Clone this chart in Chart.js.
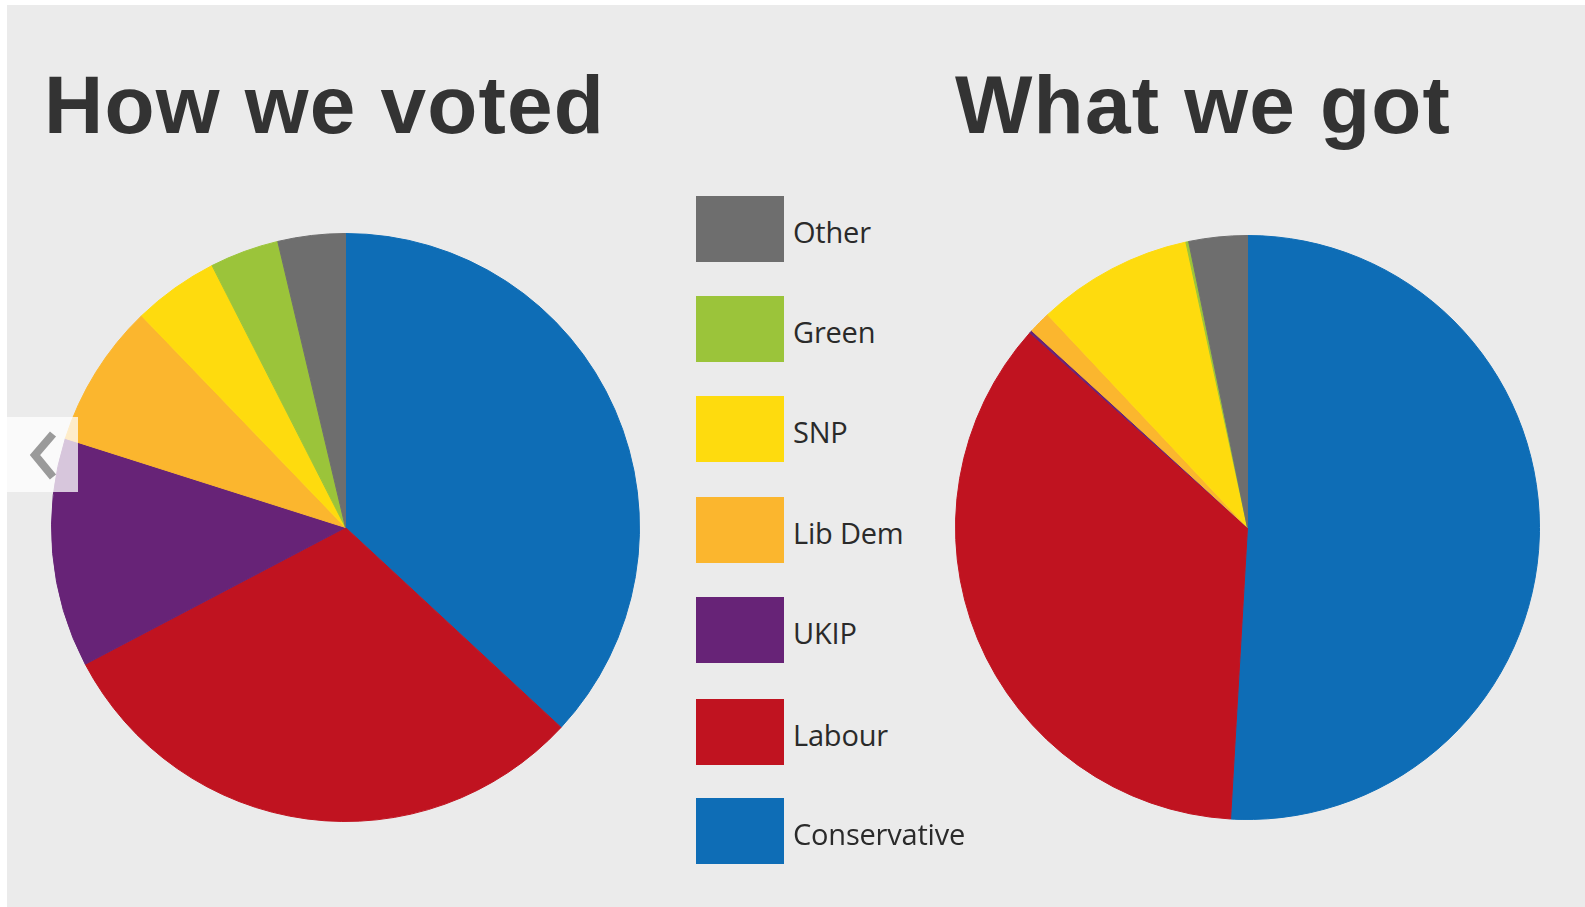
<!DOCTYPE html>
<html>
<head>
<meta charset="utf-8">
<script src="https://cdn.jsdelivr.net/npm/chart.js@4.4.0/dist/chart.umd.min.js"></script>
<style>
  html, body { margin: 0; padding: 0; width: 1585px; height: 907px; overflow: hidden; background: #ffffff; }
  #panel { position: absolute; left: 7px; top: 5px; width: 1578px; height: 902px; background: #ebebeb; }
  .title { position: absolute; font-family: "Liberation Sans", Arial, sans-serif; font-weight: bold;
           font-size: 82px; line-height: 1; color: #333333; white-space: nowrap; letter-spacing: 1.2px; }
  .box { position: absolute; left: 696px; width: 88px; height: 66px; }
  .lab { position: absolute; left: 793px; font-family: "Open Sans", sans-serif; font-size: 29px;
         line-height: 1; color: #2a2a2a; white-space: nowrap; letter-spacing: -0.2px; }
  .wrap { position: absolute; }
  #arrow { position: absolute; left: 7px; top: 417px; width: 71px; height: 75px; background: rgba(255,255,255,0.74); }
</style>
</head>
<body>
<div id="panel"></div>
<div class="title" style="left:44px; top:64px;">How we voted</div>
<div class="title" style="left:955px; top:64px;">What we got</div>
<div class="wrap" id="w1"><canvas id="c1"></canvas></div>
<div class="wrap" id="w2"><canvas id="c2"></canvas></div>
<div id="legend"></div>
<div id="arrow">
  <svg width="71" height="75" viewBox="0 0 71 75">
    <polyline points="46,17 28,38 46,60" fill="none" stroke="#9a9a9a" stroke-width="8" stroke-linejoin="miter" stroke-linecap="butt"/>
  </svg>
</div>
<script>
// Parties in clockwise order from 12 o'clock
const parties = ["Conservative", "Labour", "UKIP", "Lib Dem", "SNP", "Green", "Other"];
const partyColors = ["#0e6db6", "#c01320", "#672377", "#fbb62e", "#fedb0e", "#9bc43a", "#6e6e6e"];
// Vote share (%) - "How we voted"
const voteShare = [36.9, 30.4, 12.6, 7.9, 4.7, 3.8, 3.7];
// Seats won - "What we got"
const seatsWon = [331, 232, 1, 8, 56, 1, 21];

function makePie(canvasId, wrapId, values, cx, cy, r) {
  const size = 2 * r + 1;
  const wrap = document.getElementById(wrapId);
  wrap.style.left = (cx - size / 2) + "px";
  wrap.style.top = (cy - size / 2) + "px";
  wrap.style.width = size + "px";
  wrap.style.height = size + "px";
  const cv = document.getElementById(canvasId);
  cv.width = size; cv.height = size;
  cv.style.width = size + "px"; cv.style.height = size + "px";
  return new Chart(cv, {
    type: "pie",
    data: {
      labels: parties,
      datasets: [{
        data: values,
        backgroundColor: partyColors,
        borderColor: partyColors,
        borderWidth: 1
      }]
    },
    options: {
      responsive: false,
      animation: false,
      events: [],
      layout: { padding: 0 },
      plugins: { legend: { display: false }, tooltip: { enabled: false }, title: { display: false } }
    }
  });
}

makePie("c1", "w1", voteShare, 345, 527, 294);
makePie("c2", "w2", seatsWon, 1247, 527, 292);

// Legend (reverse order: Other at top, Conservative at bottom)
const legendTops = [196, 296, 396, 497, 597, 699, 798];
const legend = document.getElementById("legend");
const order = parties.map((p, i) => i).reverse();
order.forEach((idx, k) => {
  const b = document.createElement("div");
  b.className = "box";
  b.style.top = legendTops[k] + "px";
  b.style.background = partyColors[idx];
  legend.appendChild(b);
  const t = document.createElement("div");
  t.className = "lab";
  t.style.top = (legendTops[k] + 21) + "px";
  t.textContent = parties[idx];
  legend.appendChild(t);
});
</script>
</body>
</html>
